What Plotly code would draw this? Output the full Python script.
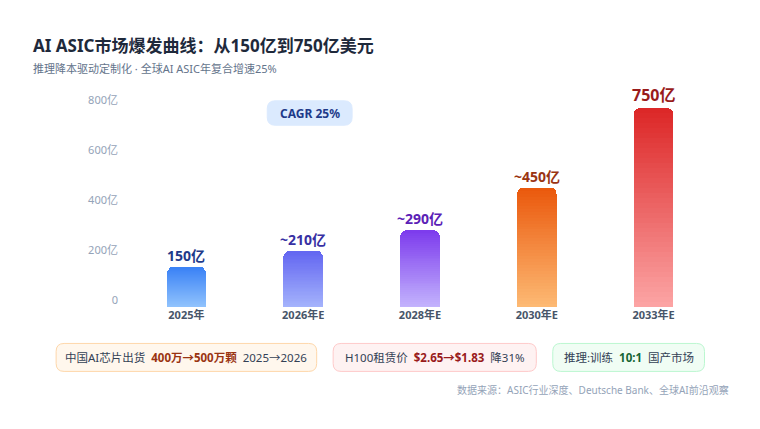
import plotly.graph_objects as go

# ---------------- data ----------------
categories = ["2025年", "2026年E", "2028年E", "2030年E", "2033年E"]
values = [150, 210, 290, 450, 750]
value_labels = ["150亿", "~210亿", "~290亿", "~450亿", "750亿"]
y_tick_vals = [0, 200, 400, 600, 800]
y_tick_text = ["0", "200亿", "400亿", "600亿", "800亿"]

# ---------------- styles ----------------
top_colors = ["#3b82f6", "#6366f1", "#7c3aed", "#ea580c", "#dc2626"]
bottom_colors = ["#93c5fd", "#a5b4fc", "#c4b5fd", "#fdba74", "#fca5a5"]
label_colors = ["#1e3a8a", "#3730a3", "#5b21b6", "#9a3412", "#991b1b"]
label_sizes = [14, 14, 14, 14, 16]

W, H = 760, 429
L, R, T, B = 127.5, 712.5, 94.7, 307.0
FONT = "Noto Sans, Noto Sans CJK SC, sans-serif"


def px(x):
    return (x - L) / (R - L)


def py(y):
    return (B - y) / (B - T)


def hex2rgb(h):
    h = h.lstrip("#")
    return tuple(int(h[i:i + 2], 16) for i in (0, 2, 4))


def mix(c1, c2, t):
    a, b = hex2rgb(c1), hex2rgb(c2)
    return "rgb(%d,%d,%d)" % tuple(round(a[i] + (b[i] - a[i]) * t) for i in range(3))


fig = go.Figure()

# gradient bars: each bar split into stacked slices coloured bottom -> top
N = 40
for k in range(N):
    t = (k + 0.5) / N
    fig.add_trace(go.Bar(
        x=categories,
        y=[v / N for v in values],
        marker=dict(color=[mix(bottom_colors[i], top_colors[i], t) for i in range(len(values))],
                    line=dict(width=0)),
        hoverinfo="skip",
        showlegend=False,
    ))

# invisible trace carrying the tick-label axis
fig.add_trace(go.Scatter(
    x=[categories[0]], y=[0], yaxis="y2", mode="markers",
    marker=dict(opacity=0), hoverinfo="skip", showlegend=False,
))

shapes = []
annotations = []

# value labels above the bars (data coordinates)
for cat, val, lab, col, sz in zip(categories, values, value_labels, label_colors, label_sizes):
    annotations.append(dict(xref="x", yref="y", x=cat, y=val, xanchor="center", yanchor="bottom",
                            yshift=0, text=f"<b>{lab}</b>", showarrow=False,
                            font=dict(family=FONT, size=sz, color=col)))


def rrect(x0, y0, x1, y1, r, fill, line):
    rx = r / (R - L)
    ry = r / (B - T)
    X0, X1 = px(x0), px(x1)
    Y0, Y1 = py(y1), py(y0)  # bottom, top in paper
    path = (f"M {X0+rx},{Y0} L {X1-rx},{Y0} Q {X1},{Y0} {X1},{Y0+ry} "
            f"L {X1},{Y1-ry} Q {X1},{Y1} {X1-rx},{Y1} L {X0+rx},{Y1} "
            f"Q {X0},{Y1} {X0},{Y1-ry} L {X0},{Y0+ry} Q {X0},{Y0} {X0+rx},{Y0} Z")
    shapes.append(dict(type="path", xref="paper", yref="paper", path=path,
                       fillcolor=fill, line=dict(color=line, width=1), layer="below"))


# title & subtitle
annotations.append(dict(xref="paper", yref="paper", x=px(30), y=py(45), xanchor="left", yanchor="middle",
                        text="<b>AI ASIC市场爆发曲线：从150亿到750亿美元</b>", showarrow=False,
                        font=dict(family=FONT, size=17, color="#1e293b")))
annotations.append(dict(xref="paper", yref="paper", x=px(30), y=py(68), xanchor="left", yanchor="middle",
                        text="推理降本驱动定制化 · 全球AI ASIC年复合增速25%", showarrow=False,
                        font=dict(family=FONT, size=11, color="#64748b")))

# CAGR badge
rrect(267, 100.5, 352, 125, 8, "#dbeafe", "#dbeafe")
annotations.append(dict(xref="paper", yref="paper", x=px(309.5), y=py(113), xanchor="center", yanchor="middle",
                        text="<b>CAGR 25%</b>", showarrow=False,
                        font=dict(family=FONT, size=12, color="#1e3a8a")))

# bottom info boxes
boxes = [
    (55.5, 316.5, "#fff7ed", "#fed7aa",
     "中国AI芯片出货  <b><span style='color:#9a3412'>400万→500万颗</span></b>  2025→2026"),
    (333, 536.5, "#fef2f2", "#fecaca",
     "H100租赁价  <b><span style='color:#991b1b'>$2.65→$1.83</span></b>  降31%"),
    (553, 705, "#f0fdf4", "#bbf7d0",
     "推理:训练  <b><span style='color:#166534'>10:1</span></b>  国产市场"),
]
for x0, x1, fill, line, txt in boxes:
    rrect(x0, 343.5, x1, 371.5, 8, fill, line)
    annotations.append(dict(xref="paper", yref="paper", x=px((x0 + x1) / 2), y=py(357.5),
                            xanchor="center", yanchor="middle", text=txt, showarrow=False,
                            font=dict(family=FONT, size=11.5, color="#334155")))

# source
annotations.append(dict(xref="paper", yref="paper", x=px(732), y=py(390), xanchor="right", yanchor="middle",
                        text="数据来源：ASIC行业深度、Deutsche Bank、全球AI前沿观察", showarrow=False,
                        font=dict(family=FONT, size=10, color="#94a3b8")))

fig.update_layout(
    width=W, height=H,
    margin=dict(l=L, r=W - R, t=T, b=H - B, pad=0),
    paper_bgcolor="white", plot_bgcolor="white",
    barmode="stack", bargap=0.66, barcornerradius=6,
    font=dict(family=FONT),
    xaxis=dict(categoryorder="array", categoryarray=categories, showgrid=False, zeroline=False,
               showline=False, ticks="",
               tickfont=dict(family=FONT, size=11, color="#475569", weight="bold")),
    yaxis=dict(range=[0, 800], showgrid=False, zeroline=False, showline=False,
               showticklabels=False, ticks=""),
    yaxis2=dict(overlaying="y", side="left", range=[-28, (300 - T) / 0.25],
                tickvals=y_tick_vals, ticktext=y_tick_text, showgrid=False, zeroline=False,
                showline=False, ticks="", ticklabelstandoff=9,
                tickfont=dict(family=FONT, size=11, color="#94a3b8")),
    shapes=shapes,
    annotations=annotations,
    showlegend=False,
)

fig.write_html("out.html", config={"displayModeBar": False},
               post_script="document.body.style.margin='0';")
